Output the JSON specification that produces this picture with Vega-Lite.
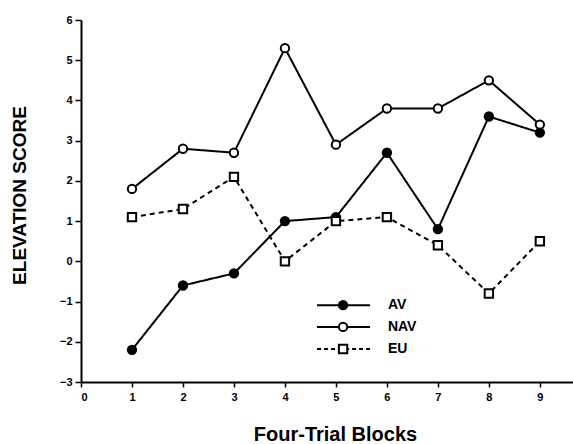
{
  "$schema": "https://vega.github.io/schema/vega-lite/v6.json",
  "width": 492,
  "height": 362,
  "autosize": {"type": "none"},
  "padding": {"left": 81, "top": 20, "right": 0, "bottom": 62},
  "background": "white",
  "config": {
    "view": {"stroke": null},
    "font": "Liberation Sans",
    "axis": {"grid": false, "domainColor": "black", "domainWidth": 2, "tickColor": "black", "tickWidth": 1.5, "labelColor": "black", "titleColor": "black"}
  },
  "datasets": {
    "scores": [
      {"block": 1, "score": -2.2, "group": "AV"},
      {"block": 2, "score": -0.6, "group": "AV"},
      {"block": 3, "score": -0.3, "group": "AV"},
      {"block": 4, "score": 1.0, "group": "AV"},
      {"block": 5, "score": 1.1, "group": "AV"},
      {"block": 6, "score": 2.7, "group": "AV"},
      {"block": 7, "score": 0.8, "group": "AV"},
      {"block": 8, "score": 3.6, "group": "AV"},
      {"block": 9, "score": 3.2, "group": "AV"},
      {"block": 1, "score": 1.8, "group": "NAV"},
      {"block": 2, "score": 2.8, "group": "NAV"},
      {"block": 3, "score": 2.7, "group": "NAV"},
      {"block": 4, "score": 5.3, "group": "NAV"},
      {"block": 5, "score": 2.9, "group": "NAV"},
      {"block": 6, "score": 3.8, "group": "NAV"},
      {"block": 7, "score": 3.8, "group": "NAV"},
      {"block": 8, "score": 4.5, "group": "NAV"},
      {"block": 9, "score": 3.4, "group": "NAV"},
      {"block": 1, "score": 1.1, "group": "EU"},
      {"block": 2, "score": 1.3, "group": "EU"},
      {"block": 3, "score": 2.1, "group": "EU"},
      {"block": 4, "score": 0.0, "group": "EU"},
      {"block": 5, "score": 1.0, "group": "EU"},
      {"block": 6, "score": 1.1, "group": "EU"},
      {"block": 7, "score": 0.4, "group": "EU"},
      {"block": 8, "score": -0.8, "group": "EU"},
      {"block": 9, "score": 0.5, "group": "EU"}
    ],
    "legendAV": [{"label": "AV"}],
    "legendNAV": [{"label": "NAV"}],
    "legendEU": [{"label": "EU"}]
  },
  "layer": [
    {
      "data": {"name": "scores"},
      "mark": {"type": "line", "color": "black", "strokeWidth": 2},
      "encoding": {
        "x": {
          "field": "block", "type": "quantitative",
          "scale": {"domain": [0, 9.65], "nice": false, "zero": false},
          "axis": {"values": [0,1,2,3,4,5,6,7,8,9], "format": "d", "tickSize": 5, "labelPadding": 4, "labelFont": "Liberation Sans", "labelFontWeight": "bold", "labelFontSize": 11, "title": "Four-Trial  Blocks", "titleFont": "Liberation Sans", "titleFontWeight": "bold", "titleFontSize": 20, "titleX": 254, "titleY": 58, "titleBaseline": "alphabetic", "titleAlign": "center"}
        },
        "y": {
          "field": "score", "type": "quantitative",
          "scale": {"domain": [-3, 6], "nice": false, "zero": false},
          "axis": {"values": [-3,-2,-1,0,1,2,3,4,5,6], "format": "d", "tickSize": 6, "labelPadding": 3, "labelFont": "Liberation Sans", "labelFontWeight": "bold", "labelFontSize": 11, "title": "ELEVATION  SCORE", "titleFont": "Liberation Sans", "titleFontWeight": "bold", "titleFontSize": 19, "titleAngle": -90, "titleX": -56, "titleY": 175, "titleBaseline": "alphabetic", "titleAlign": "center"}
        },
        "detail": {"field": "group"},
        "strokeDash": {"field": "group", "type": "nominal", "scale": {"domain": ["AV", "NAV", "EU"], "range": [[1, 0], [1, 0], [5, 4]]}, "legend": null}
      }
    },
    {
      "data": {"name": "scores"},
      "mark": {"type": "point", "filled": true, "stroke": "black", "strokeWidth": 2, "size": 70, "opacity": 1},
      "encoding": {
        "x": {"field": "block", "type": "quantitative"},
        "y": {"field": "score", "type": "quantitative"},
        "fill": {"field": "group", "type": "nominal", "scale": {"domain": ["AV", "NAV", "EU"], "range": ["black", "white", "white"]}, "legend": null},
        "shape": {"field": "group", "type": "nominal", "scale": {"domain": ["AV", "NAV", "EU"], "range": ["circle", "circle", "square"]}, "legend": null}
      }
    },
    {
      "data": {"name": "legendAV"},
      "mark": {"type": "rule", "color": "black", "strokeWidth": 2},
      "encoding": {"x": {"datum": 4.63, "type": "quantitative"}, "x2": {"datum": 5.67}, "y": {"datum": -1.09, "type": "quantitative"}}
    },
    {
      "data": {"name": "legendAV"},
      "mark": {"type": "point", "shape": "circle", "filled": true, "fill": "black", "stroke": "black", "strokeWidth": 2, "size": 70, "opacity": 1},
      "encoding": {"x": {"datum": 5.14, "type": "quantitative"}, "y": {"datum": -1.09, "type": "quantitative"}}
    },
    {
      "data": {"name": "legendAV"},
      "mark": {"type": "text", "font": "Liberation Sans", "fontWeight": "bold", "fontSize": 14, "align": "left", "baseline": "middle", "color": "black"},
      "encoding": {"x": {"datum": 6.02, "type": "quantitative"}, "y": {"datum": -1.09, "type": "quantitative"}, "text": {"field": "label"}}
    },
    {
      "data": {"name": "legendNAV"},
      "mark": {"type": "rule", "color": "black", "strokeWidth": 2},
      "encoding": {"x": {"datum": 4.63, "type": "quantitative"}, "x2": {"datum": 5.67}, "y": {"datum": -1.63, "type": "quantitative"}}
    },
    {
      "data": {"name": "legendNAV"},
      "mark": {"type": "point", "shape": "circle", "filled": true, "fill": "white", "stroke": "black", "strokeWidth": 2, "size": 70, "opacity": 1},
      "encoding": {"x": {"datum": 5.14, "type": "quantitative"}, "y": {"datum": -1.63, "type": "quantitative"}}
    },
    {
      "data": {"name": "legendNAV"},
      "mark": {"type": "text", "font": "Liberation Sans", "fontWeight": "bold", "fontSize": 14, "align": "left", "baseline": "middle", "color": "black"},
      "encoding": {"x": {"datum": 6.02, "type": "quantitative"}, "y": {"datum": -1.63, "type": "quantitative"}, "text": {"field": "label"}}
    },
    {
      "data": {"name": "legendEU"},
      "mark": {"type": "rule", "color": "black", "strokeWidth": 2, "strokeDash": [4, 3]},
      "encoding": {"x": {"datum": 4.63, "type": "quantitative"}, "x2": {"datum": 5.67}, "y": {"datum": -2.18, "type": "quantitative"}}
    },
    {
      "data": {"name": "legendEU"},
      "mark": {"type": "point", "shape": "square", "filled": true, "fill": "white", "stroke": "black", "strokeWidth": 2, "size": 70, "opacity": 1},
      "encoding": {"x": {"datum": 5.14, "type": "quantitative"}, "y": {"datum": -2.18, "type": "quantitative"}}
    },
    {
      "data": {"name": "legendEU"},
      "mark": {"type": "text", "font": "Liberation Sans", "fontWeight": "bold", "fontSize": 14, "align": "left", "baseline": "middle", "color": "black"},
      "encoding": {"x": {"datum": 6.02, "type": "quantitative"}, "y": {"datum": -2.18, "type": "quantitative"}, "text": {"field": "label"}}
    }
  ]
}
